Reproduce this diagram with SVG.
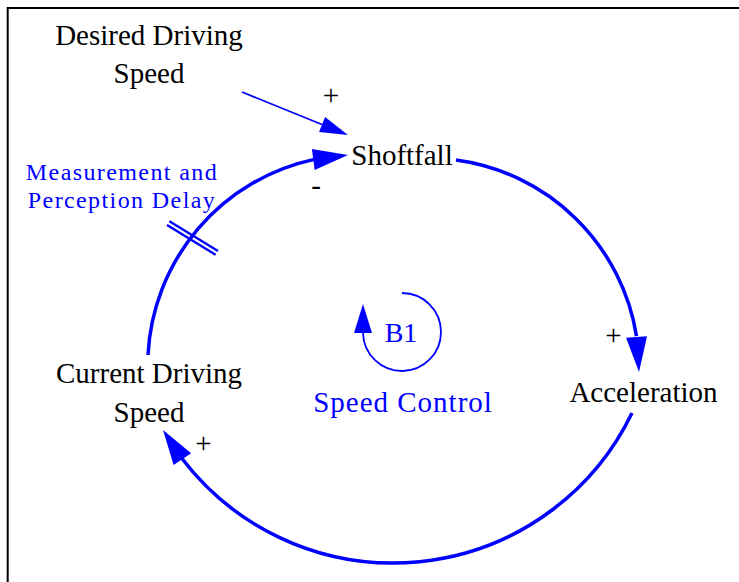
<svg xmlns="http://www.w3.org/2000/svg" xmlns:xlink="http://www.w3.org/1999/xlink" width="739" height="582" viewBox="0 0 739 582">
<style>
.lbl{font-family:"Liberation Serif","Times New Roman",serif;font-size:29px;fill:#000;text-anchor:middle}
.blbl{font-family:"Liberation Serif","Times New Roman",serif;fill:#0000ff;text-anchor:middle}
.pol{font-family:"Liberation Serif","Times New Roman",serif;font-size:29px;fill:#000;text-anchor:middle}
.link{fill:none;stroke:#0000ff;stroke-width:3.5}
.thin{fill:none;stroke:#0000ff;stroke-width:1.8}
.head{fill:#0000ff;stroke:none}
.delay{stroke:#0000ff;stroke-width:2.4;fill:none}
</style>
<defs>
<path id="bighead" class="head" d="M0,0 L-35,-10.5 L-35,10.5 Z"/>
<path id="smallhead" class="head" d="M0,0 L-28,-8 L-28,8 Z"/>
<path id="loophead" class="head" d="M0,0 L-29,-9 L-29,9 Z"/>
</defs>
<rect width="739" height="582" fill="#fff"/>
<g id="frame" stroke="#000" stroke-width="2" fill="none">
<line x1="7.7" y1="8" x2="739" y2="8"/>
<line x1="7.7" y1="7" x2="7.7" y2="582"/>
</g>
<g id="connectors">
<path class="thin" d="M242,92 L322,124.5"/>
<use xlink:href="#smallhead" transform="translate(348,135) rotate(22.1)"/>
<path class="link" d="M148,355 A210.8,210.8 0 0 1 314.3,159.4"/>
<use xlink:href="#bighead" transform="translate(348,155) rotate(-7.4)"/>
<path class="link" d="M456,160 A211.3,211.3 0 0 1 636.5,336.1"/>
<use xlink:href="#bighead" transform="translate(639,372) rotate(86)"/>
<path class="link" d="M632,413 A265.4,265.4 0 0 1 181.8,458.3"/>
<use xlink:href="#bighead" transform="translate(163,430) rotate(-123.6)"/>
<g id="delay-mark">
<line class="delay" x1="169.4" y1="221.2" x2="218" y2="251"/>
<line class="delay" x1="167" y1="225" x2="215.6" y2="254.8"/>
</g>
</g>
<g id="node-desired">
<text class="lbl" x="149" y="45">Desired Driving</text>
<text class="lbl" x="149" y="83">Speed</text>
</g>
<g id="node-shortfall">
<text class="lbl" x="402" y="165">Shoftfall</text>
</g>
<g id="node-acceleration">
<text class="lbl" x="643.5" y="402">Acceleration</text>
</g>
<g id="node-current">
<text class="lbl" x="149" y="383">Current Driving</text>
<text class="lbl" x="149" y="422">Speed</text>
</g>
<g id="delay-label">
<text class="blbl" x="122" y="180" font-size="24" letter-spacing="1.4">Measurement and</text>
<text class="blbl" x="122" y="208" font-size="24" letter-spacing="1.4">Perception Delay</text>
</g>
<g id="loop-b1">
<path class="thin" stroke-width="2" d="M402,293 A39,39 0 1 1 363,333"/>
<use xlink:href="#loophead" transform="translate(363,304) rotate(-90)"/>
<text class="blbl" x="401" y="342" font-size="28">B1</text>
<text class="blbl" x="403" y="412" font-size="29" letter-spacing="1">Speed Control</text>
</g>
<g id="polarities">
<text class="pol" x="331" y="105">+</text>
<text class="pol" x="316" y="195">-</text>
<text class="pol" x="613.5" y="345">+</text>
<text class="pol" x="203.5" y="453">+</text>
</g>
</svg>
